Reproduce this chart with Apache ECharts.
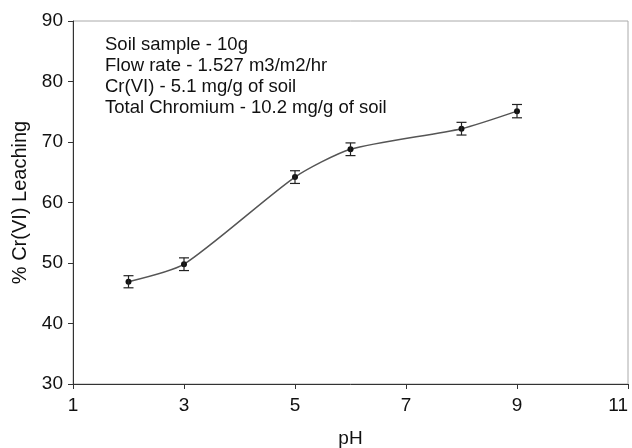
<!DOCTYPE html>
<html>
<head>
<meta charset="utf-8">
<script src="https://cdn.jsdelivr.net/npm/echarts@6/dist/echarts.min.js"></script>
<style>
  * { margin: 0; padding: 0; }
  html, body { width: 632px; height: 448px; background: #fff; }
  #main { width: 632px; height: 448px; }
</style>
</head>
<body>
<div id="main"></div>
<script>
// pH values and % Cr(VI) leaching
var phValues = [2, 3, 5, 6, 8, 9];
var leaching = [46.9, 49.8, 64.2, 68.8, 72.2, 75.1];
var errValues = [1.0, 1.05, 1.05, 1.05, 1.05, 1.1];
var xTicks = [1, 3, 5, 7, 9, 11];
var yTicks = [30, 40, 50, 60, 70, 80, 90];
var notes = [
    'Soil sample - 10g',
    'Flow rate - 1.527 m3/m2/hr',
    'Cr(VI) - 5.1 mg/g of soil',
    'Total Chromium - 10.2 mg/g of soil'
];

var font = '"Liberation Sans", Arial, sans-serif';

var lineData = [];
var errData = [];
for (var i = 0; i < phValues.length; i++) {
    lineData.push([phValues[i], leaching[i]]);
    errData.push([phValues[i], leaching[i] - errValues[i], leaching[i] + errValues[i]]);
}

var chart = echarts.init(document.getElementById('main'));
chart.setOption({
    backgroundColor: '#fff',
    animation: false,
    textStyle: { fontFamily: font },
    grid: {
        left: 73, right: 4, top: 21, bottom: 64,
        show: true,
        borderColor: '#aaa',
        borderWidth: 1,
        outerBoundsMode: 'none'
    },
    xAxis: {
        type: 'value',
        min: xTicks[0],
        max: xTicks[xTicks.length - 1],
        interval: 2,
        name: 'pH',
        nameLocation: 'middle',
        nameGap: 45,
        nameTextStyle: { fontSize: 19, color: '#111', fontFamily: font },
        axisLine: { lineStyle: { color: '#333', width: 1 } },
        axisTick: { show: true, inside: false, length: 5, lineStyle: { color: '#333' } },
        axisLabel: { fontSize: 19, color: '#111', margin: 12, fontFamily: font, alignMaxLabel: 'right' },
        splitLine: { show: false }
    },
    yAxis: {
        type: 'value',
        min: yTicks[0],
        max: yTicks[yTicks.length - 1],
        interval: 10,
        name: '% Cr(VI) Leaching',
        nameLocation: 'middle',
        nameGap: 42,
        nameTextStyle: { fontSize: 20, color: '#111', fontFamily: font },
        axisLine: { show: true, lineStyle: { color: '#333', width: 1 } },
        axisTick: { show: true, inside: false, length: 5, lineStyle: { color: '#333' } },
        axisLabel: { fontSize: 19, color: '#111', margin: 10, fontFamily: font },
        splitLine: { show: false }
    },
    graphic: [{
        type: 'text',
        left: 105,
        top: 34,
        style: {
            text: notes.join('\n'),
            font: '18.5px ' + font,
            lineHeight: 21,
            fill: '#111'
        }
    }],
    series: [
        {
            type: 'line',
            data: lineData,
            smooth: 0.22,
            symbol: 'circle',
            symbolSize: 6,
            itemStyle: { color: '#111' },
            lineStyle: { color: '#555', width: 1.5 },
            z: 3
        },
        {
            type: 'custom',
            data: errData,
            z: 4,
            renderItem: function (params, api) {
                var x = api.value(0);
                var lo = api.coord([x, api.value(1)]);
                var hi = api.coord([x, api.value(2)]);
                var hw = 5;
                var st = { stroke: '#222', lineWidth: 1.2 };
                return {
                    type: 'group',
                    children: [
                        { type: 'line', shape: { x1: lo[0], y1: lo[1], x2: hi[0], y2: hi[1] }, style: st },
                        { type: 'line', shape: { x1: lo[0] - hw, y1: lo[1], x2: lo[0] + hw, y2: lo[1] }, style: st },
                        { type: 'line', shape: { x1: hi[0] - hw, y1: hi[1], x2: hi[0] + hw, y2: hi[1] }, style: st }
                    ]
                };
            }
        }
    ]
});
</script>
</body>
</html>
